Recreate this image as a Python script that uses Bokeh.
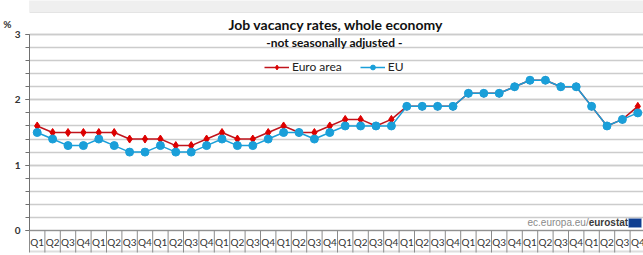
from bokeh.plotting import figure
from bokeh.models import (Range1d, FixedTicker, Label, BoxAnnotation, ColumnDataSource,
                          LinearAxis, Span)
from bokeh.core.properties import value
from bokeh.embed import file_html
from bokeh.resources import INLINE

quarters = ["Q1", "Q2", "Q3", "Q4"] * 10
euro_area = [1.6, 1.5, 1.5, 1.5, 1.5, 1.5, 1.4, 1.4, 1.4, 1.3, 1.3, 1.4,
             1.5, 1.4, 1.4, 1.5, 1.6, 1.5, 1.5, 1.6, 1.7, 1.7, 1.6, 1.7,
             1.9, 1.9, 1.9, 1.9, 2.1, 2.1, 2.1, 2.2, 2.3, 2.3, 2.2, 2.2,
             1.9, 1.6, 1.7, 1.9]
eu = [1.5, 1.4, 1.3, 1.3, 1.4, 1.3, 1.2, 1.2, 1.3, 1.2, 1.2, 1.3,
      1.4, 1.3, 1.3, 1.4, 1.5, 1.5, 1.4, 1.5, 1.6, 1.6, 1.6, 1.6,
      1.9, 1.9, 1.9, 1.9, 2.1, 2.1, 2.1, 2.2, 2.3, 2.3, 2.2, 2.2,
      1.9, 1.6, 1.7, 1.8]
y_ticks = [0, 1, 2, 3]

x = list(range(len(quarters)))
src = ColumnDataSource(dict(x=x, euro=euro_area, eu=eu, q=quarters))
bounds_x = [i - 0.5 for i in range(len(x) + 1)]
sep_src = ColumnDataSource(dict(xb=bounds_x))

PX = 65.333  # pixels per unit on the y scale (y=0 at 230px, y=3 at 34px)

p = figure(width=643, height=255, output_backend="svg", toolbar_location=None,
           x_range=Range1d(-0.5, 39.37),
           y_range=Range1d(-22 / PX, 3 + 34 / PX),
           min_border_left=27, min_border_right=0, min_border_top=0,
           min_border_bottom=3)
p.outline_line_color = None
p.background_fill_color = "white"
p.border_fill_color = "white"
p.xaxis.visible = False

# backdrop above the chart panel and shadow below it
p.add_layout(BoxAnnotation(bottom=3 + 22 / PX, top=3.7, fill_color="#efefef", fill_alpha=1,
                           line_color="#b8b8b8", line_width=1))
p.add_layout(BoxAnnotation(bottom=-1, top=-20 / PX, fill_color="#dedede", fill_alpha=1,
                           line_color=None))

# grid
p.xgrid.grid_line_color = None
p.ygrid.grid_line_color = "#cccccc"
p.ygrid.grid_line_width = 1.5
p.ygrid.minor_grid_line_color = "#cccccc"
p.ygrid.minor_grid_line_width = 1.5

# y axis
yminor = [i / 5 for i in range(16)]
p.yaxis.ticker = FixedTicker(ticks=y_ticks, minor_ticks=yminor)
p.yaxis.bounds = (0, 3)
p.yaxis.axis_line_color = "#707070"
p.yaxis.major_tick_line_color = "#707070"
p.yaxis.minor_tick_line_color = "#707070"
p.yaxis.major_tick_out = 4
p.yaxis.major_tick_in = 0
p.yaxis.minor_tick_out = 4
p.yaxis.minor_tick_in = 0
p.yaxis.major_label_standoff = 5
p.yaxis.major_label_text_font = "Lato"
p.yaxis.major_label_text_font_style = "bold"
p.yaxis.major_label_text_font_size = "10px"
p.yaxis.major_label_text_color = "#333333"

# unit label "%" as an extra, bare axis
unit_axis = LinearAxis(ticker=FixedTicker(ticks=[3.16]),
                       major_label_overrides={3.16: "%"})
unit_axis.axis_line_color = None
unit_axis.major_tick_line_color = None
unit_axis.minor_tick_line_color = None
unit_axis.major_tick_out = 0
unit_axis.major_label_standoff = 0
unit_axis.major_label_text_font = "Lato"
unit_axis.major_label_text_font_style = "bold"
unit_axis.major_label_text_font_size = "10px"
unit_axis.major_label_text_color = "#333333"
p.add_layout(unit_axis, "left")

# category axis drawn inside the extended frame
p.add_layout(Span(location=0, dimension="width", line_color="#909090", line_width=1))
p.text(x="x", y=-11.5 / PX, text="q", source=src, text_font=value("Lato"),
       text_font_size="10px", text_align="center", text_baseline="middle",
       text_color="#333333")
p.segment(x0="xb", y0=0, x1="xb", y1=-22 / PX, source=sep_src,
          line_color="#8c8c8c", line_width=1, level="overlay")

# series
p.line("x", "euro", source=src, color="#c0141c", line_width=1.5, legend_label="Euro area")
p.scatter("x", "euro", source=src, marker="diamond", size=8, color="#dd0000",
          legend_label="Euro area")
p.line("x", "eu", source=src, color="#1a9fd9", line_width=1.5, legend_label="EU")
p.scatter("x", "eu", source=src, marker="circle", size=8, color="#1a9fd9",
          legend_label="EU")

lg = p.legend[0]
lg.orientation = "horizontal"
lg.location = (235, 156 + 22)
lg.border_line_color = None
lg.background_fill_alpha = 0
lg.padding = 0
lg.margin = 0
lg.spacing = 18
lg.glyph_width = 25
lg.glyph_height = 12
lg.label_height = 12
lg.label_standoff = 3
lg.label_text_font = "Lato"
lg.label_text_font_size = "12px"
lg.label_text_color = "#222222"

# titles
p.add_layout(Label(x=19.4, y=3 + 10 / PX, text="Job vacancy rates, whole economy",
                   text_font="Lato", text_font_style="bold", text_font_size="14px",
                   text_align="center", text_baseline="middle", text_color="#111111"))
p.add_layout(Label(x=19.4, y=3 - 8 / PX, text="-not  seasonally adjusted -",
                   text_font="Lato", text_font_style="bold", text_font_size="12px",
                   text_align="center", text_baseline="middle", text_color="#111111"))

# source watermark
p.add_layout(Label(x=35.81, y=8 / PX, text="ec.europa.eu/",
                   text_font="Liberation Sans", text_font_size="10px",
                   text_align="right", text_baseline="middle", text_color="#8a8a8a"))
p.add_layout(Label(x=35.81, y=8 / PX, text="eurostat",
                   text_font="Liberation Sans", text_font_style="bold", text_font_size="10px",
                   text_align="left", text_baseline="middle", text_color="#3a3a3a"))
p.add_layout(BoxAnnotation(left=38.4, right=39.24, bottom=3 / PX, top=12 / PX,
                           fill_color="#103f91", fill_alpha=1,
                           line_color="#9fb4d8", line_width=1))

open("out.html", "w").write(file_html(p, INLINE))
